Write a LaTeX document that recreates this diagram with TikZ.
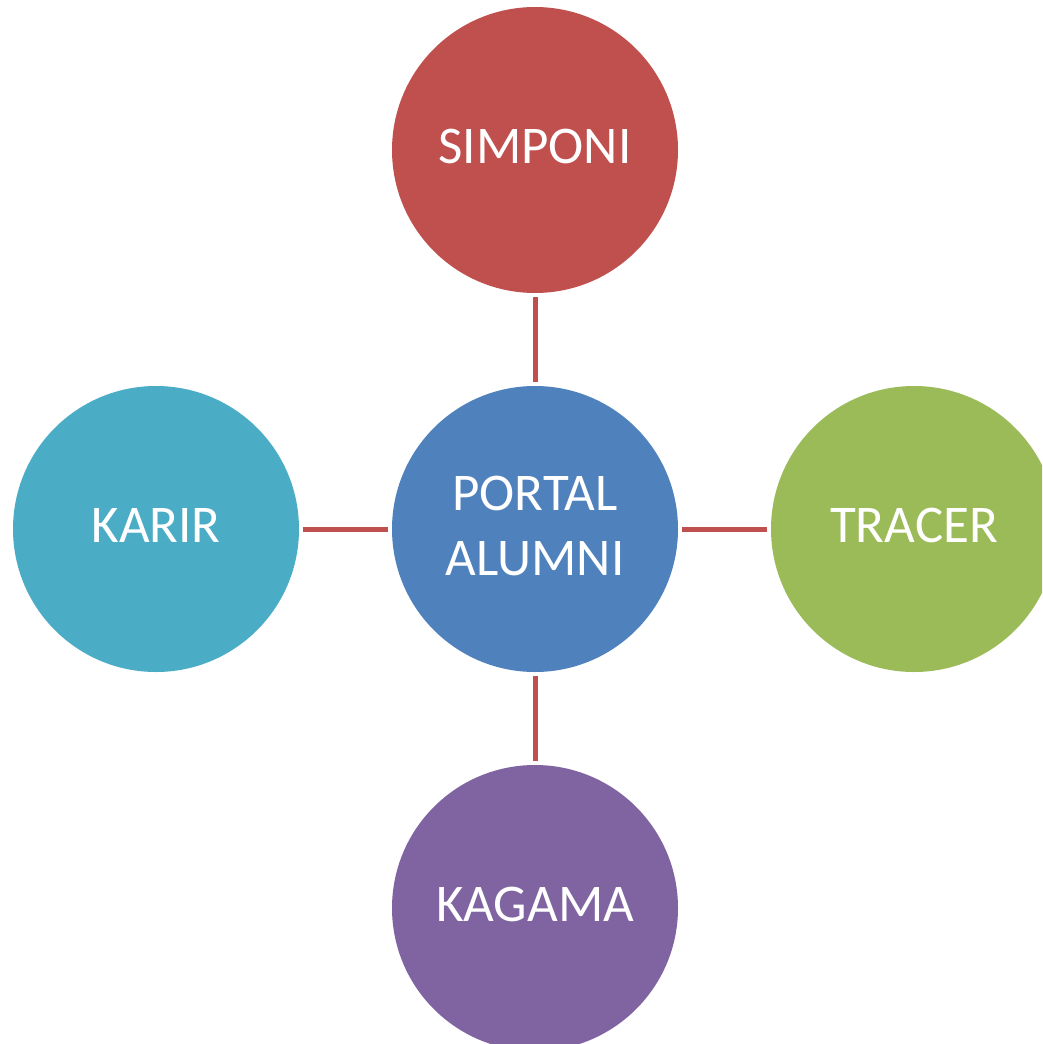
\documentclass[tikz,border=0pt]{standalone}
\usepackage{fontspec}
\setmainfont{Carlito}
\definecolor{cred}{HTML}{C0504D}
\definecolor{cblue}{HTML}{4F81BD}
\definecolor{cgreen}{HTML}{9BBB59}
\definecolor{cpurple}{HTML}{8064A2}
\definecolor{caqua}{HTML}{4BACC6}
\begin{document}
\begin{tikzpicture}[x=1pt,y=-1pt,
  bubble/.style={circle,minimum size=286pt,inner sep=0pt,text=white,
    font=\fontsize{53}{65}\selectfont,align=center,
    text height=34.1pt,text depth=8pt},
  link/.style={draw=cred,line width=5pt,shorten >=4pt,shorten <=4pt}]
\useasboundingbox (0,0) rectangle (1042,1044);
\clip (0,0) rectangle (1042,1044);
\node[bubble,fill=cblue,text height=101pt,text depth=8pt] (portal) at (535,529) {PORTAL\\ALUMNI};
\node[bubble,fill=cred] (simponi) at (535,150) {SIMPONI};
\node[bubble,fill=caqua] (karir) at (156,529) {KARIR};
\node[bubble,fill=cgreen] (tracer) at (914,529) {TRACER};
\node[bubble,fill=cpurple] (kagama) at (535,908) {KAGAMA};
\draw[link] (simponi) -- (portal);
\draw[link] (karir) -- (portal);
\draw[link] (portal) -- (tracer);
\draw[link] (portal) -- (kagama);
\end{tikzpicture}
\end{document}
